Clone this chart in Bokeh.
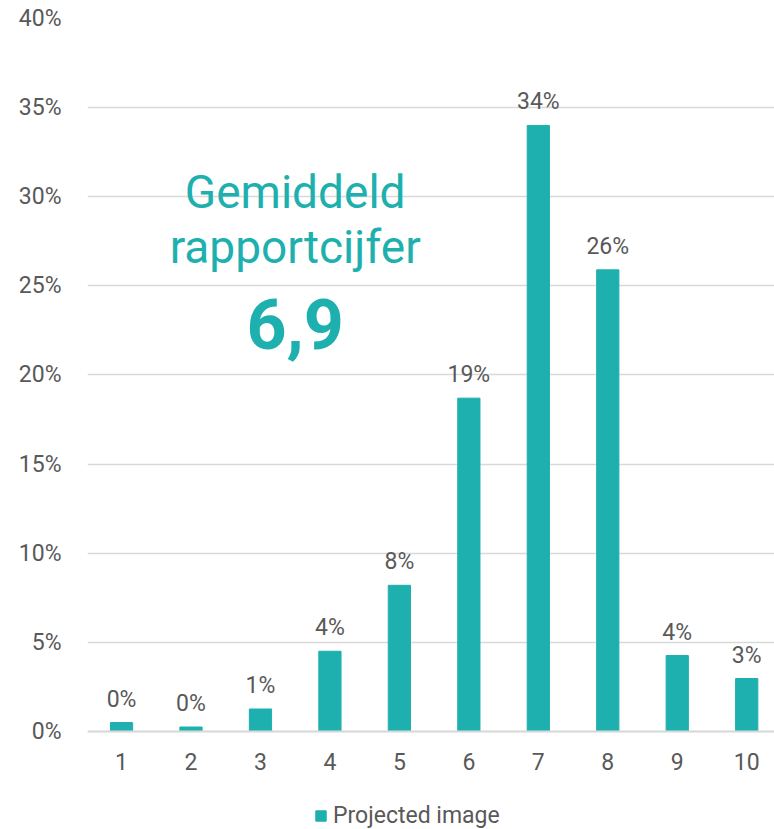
from bokeh.plotting import figure
from bokeh.models import (ColumnDataSource, Range1d, FixedTicker, PrintfTickFormatter,
                          LabelSet, Label, Legend, LegendItem)
from bokeh.core.properties import value
from bokeh.embed import file_html
from bokeh.resources import INLINE

categories = [1, 2, 3, 4, 5, 6, 7, 8, 9, 10]
values = [0.5, 0.25, 1.26, 4.5, 8.2, 18.7, 34.0, 25.9, 4.26, 2.97]
labels = ["0%", "0%", "1%", "4%", "8%", "19%", "34%", "26%", "4%", "3%"]
y_ticks = [0, 5, 10, 15, 20, 25, 30, 35, 40]
series_name = "Projected image"

TEAL = "#1DB0AE"
GRID = "#D9D9D9"
TXT = "#595959"
FONT = "Roboto"
FS = "23px"

src = ColumnDataSource(dict(x=categories, top=values, label=labels))

# frame extends to the bottom of the canvas so the legend can sit inside it;
# the x axis is pinned at 0 with fixed_location
p = figure(width=774, height=829, output_backend="svg", toolbar_location=None,
           x_range=Range1d(0.51, 10.40), y_range=Range1d(-5.5, 40),
           min_border_left=87, min_border_right=0, min_border_top=18, min_border_bottom=0)
p.outline_line_color = None
p.background_fill_color = "white"
p.border_fill_color = "white"

r = p.vbar(x="x", top="top", width=0.32, source=src, color=TEAL)

p.xgrid.grid_line_color = None
p.ygrid.grid_line_color = GRID
p.ygrid.grid_line_width = 1.5
p.ygrid.ticker = FixedTicker(ticks=y_ticks)

p.yaxis.ticker = FixedTicker(ticks=y_ticks)
p.yaxis.formatter = PrintfTickFormatter(format="%d%%")
p.yaxis.axis_line_color = None
p.yaxis.major_tick_line_color = None
p.yaxis.minor_tick_line_color = None
p.yaxis.major_label_standoff = 20
p.yaxis.major_label_text_font = FONT
p.yaxis.major_label_text_font_size = FS
p.yaxis.major_label_text_color = TXT

p.xaxis.fixed_location = 0
p.xaxis.ticker = FixedTicker(ticks=categories)
p.xaxis.axis_line_color = GRID
p.xaxis.axis_line_width = 2
p.xaxis.major_tick_line_color = None
p.xaxis.minor_tick_line_color = None
p.xaxis.major_label_standoff = 16
p.xaxis.major_label_text_font = FONT
p.xaxis.major_label_text_font_size = FS
p.xaxis.major_label_text_color = TXT

ls = LabelSet(x="x", y="top", text="label", source=src, text_align="center",
              text_baseline="alphabetic", y_offset=16, text_font=value(FONT),
              text_font_size=value(FS), text_color=value(TXT))
p.add_layout(ls)

for txt, yv, size, style in [("Gemiddeld", 30.29, "46px", "normal"),
                             ("rapportcijfer", 27.2, "46px", "normal"),
                             ("6,9", 22.85, "70px", "bold")]:
    p.add_layout(Label(x=3.5, y=yv, text=txt, text_align="center", text_baseline="alphabetic",
                       text_font=FONT, text_font_size=size, text_font_style=style,
                       text_color=TEAL))

legend = Legend(items=[LegendItem(label=series_name, renderers=[r])],
                location=(225, -2), orientation="horizontal",
                border_line_alpha=0, background_fill_alpha=0,
                glyph_width=13, glyph_height=13, label_text_font=FONT,
                label_text_font_size=FS, label_text_color=TXT,
                label_standoff=6, padding=2, margin=0)
p.add_layout(legend)

open("out.html", "w").write(file_html(p, INLINE))
